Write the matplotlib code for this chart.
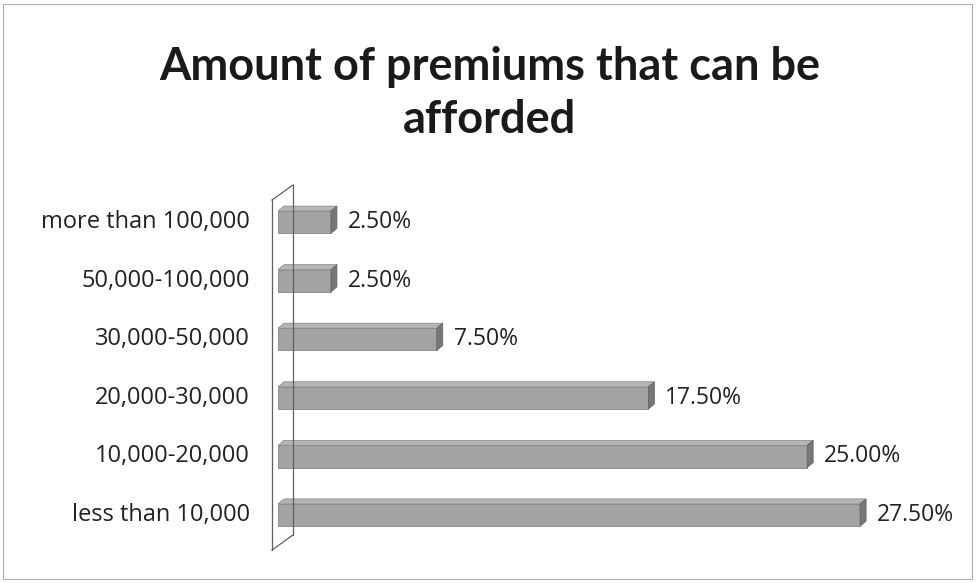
import matplotlib.pyplot as plt
from matplotlib.patches import Polygon, Rectangle
from matplotlib.lines import Line2D
import matplotlib.transforms as mtransforms

categories = ['less than 10,000', '10,000-20,000', '20,000-30,000',
              '30,000-50,000', '50,000-100,000', 'more than 100,000']
values = [27.5, 25.0, 17.5, 7.5, 2.5, 2.5]
labels = ['27.50%', '25.00%', '17.50%', '7.50%', '2.50%', '2.50%']

W, H = 976, 583
fig = plt.figure(figsize=(W / 100, H / 100), dpi=100)
fig.patch.set_facecolor('white')

# outer frame of the chart area
fig.add_artist(Rectangle((3 / W, 4 / H), 969 / W, 575 / H, transform=fig.transFigure,
                         fill=False, edgecolor='#b0b0b0', linewidth=0.8))

fig.text(490 / W, 1 - 67 / H, 'Amount of premiums that can be', ha='center', va='center',
         fontsize=32.5, fontweight='bold', family='Lato', color='#1a1a1a')
fig.text(490 / W, 1 - 120 / H, 'afforded', ha='center', va='center',
         fontsize=32.5, fontweight='bold', family='Lato', color='#1a1a1a')

# axes: x 0..30 across px 278..913, y from px 550 (bottom) to 190 (top)
ax = fig.add_axes([278 / W, (H - 550) / H, (913 - 278) / W, 360 / H])
ax.set_xlim(0, 30)
ax.set_ylim(-0.597, 5.55)
ax.axis('off')

# side wall drawn as thin 3D panel
wall = dict(color='#606060', linewidth=0.9, transform=fig.transFigure)
fig.add_artist(Line2D([272 / W, 272 / W], [1 - 200 / H, 1 - 550 / H], **wall))
fig.add_artist(Line2D([293 / W, 293 / W], [1 - 185 / H, 1 - 535 / H], **wall))
fig.add_artist(Line2D([272 / W, 293 / W], [1 - 200 / H, 1 - 185 / H], **wall))
fig.add_artist(Line2D([272 / W, 293 / W], [1 - 550 / H, 1 - 535 / H], **wall))

bar_h = 0.38
dx, dy = 6, 5  # depth offset in pixels
ys = list(range(len(categories)))
ax.barh(ys, values, height=bar_h, color='#a3a3a3', edgecolor='#858585', linewidth=0.6, zorder=3)

depth = mtransforms.offset_copy(ax.transData, fig=fig, x=dx, y=dy, units='dots')
for y, v in zip(ys, values):
    top = y + bar_h / 2
    bot = y - bar_h / 2
    # top face
    pts_front = ax.transData.transform([(0, top), (v, top)])
    pts_back = depth.transform([(v, top), (0, top)])
    ax.add_patch(Polygon(list(pts_front) + list(pts_back), closed=True, transform=None,
                         facecolor='#b5b5b5', edgecolor='#858585', linewidth=0.5, zorder=4))
    # side face
    s_front = ax.transData.transform([(v, bot), (v, top)])
    s_back = depth.transform([(v, top), (v, bot)])
    ax.add_patch(Polygon(list(s_front) + list(s_back), closed=True, transform=None,
                         facecolor='#777777', edgecolor='#606060', linewidth=0.5, zorder=4))

for y, v, lab, cat in zip(ys, values, labels, categories):
    ax.annotate(lab, (v, y), xytext=(dx + 11, 0), textcoords='offset pixels',
                ha='left', va='center', fontsize=16.5, family='Open Sans', color='#222222')
    ax.annotate(cat, (0, y), xytext=(-28, 0), textcoords='offset pixels',
                ha='right', va='center', fontsize=17, family='Open Sans', color='#222222')

fig.savefig('out.png', dpi=100)
